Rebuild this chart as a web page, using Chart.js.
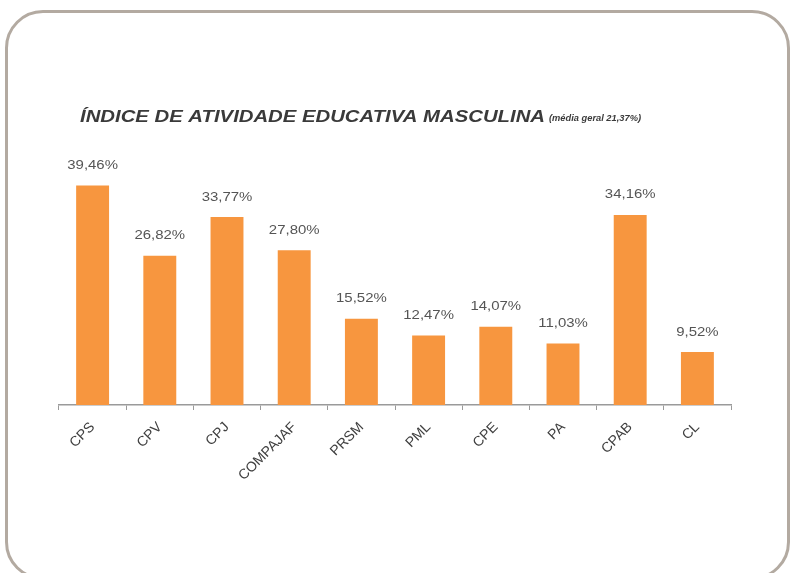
<!DOCTYPE html>
<html>
<head>
<meta charset="utf-8">
<script src="https://cdn.jsdelivr.net/npm/chart.js@4"></script>
<style>
  html, body { margin: 0; padding: 0; background: #fff; overflow: hidden; }
  .frame {
    position: absolute; left: 5px; top: 10px; width: 779px; height: 564px;
    border: 3px solid #b3aaa1; border-radius: 38px;
  }
  .wrap { position: absolute; left: 0; top: 0; width: 792px; height: 573px; }
</style>
</head>
<body>
<div class="frame"></div>
<div class="wrap"><canvas id="chart" width="792" height="573"></canvas></div>
<script>
(function () {

  const categories = ['CPS', 'CPV', 'CPJ', 'COMPAJAF', 'PRSM', 'PML', 'CPE', 'PA', 'CPAB', 'CL'];
  const values = [39.46, 26.82, 33.77, 27.80, 15.52, 12.47, 14.07, 11.03, 34.16, 9.52];
  const titleMain = 'ÍNDICE DE ATIVIDADE EDUCATIVA MASCULINA';
  const titleNote = '(média geral 21,37%)';

  const fmt = v => v.toFixed(2).replace('.', ',') + '%';

  // draw text squeezed/stretched to a given width
  function fitText(ctx, txt, x, y, w) {
    const m = ctx.measureText(txt).width;
    ctx.save();
    ctx.translate(x, y);
    ctx.scale(w / m, 1);
    ctx.fillText(txt, 0, 0);
    ctx.restore();
  }

  // title + value labels drawn on the canvas
  const extras = {
    id: 'extras',
    afterDatasetsDraw(chart) {
      const ctx = chart.ctx;
      ctx.save();
      ctx.fillStyle = '#555';
      ctx.font = '13px "Liberation Sans", Arial, sans-serif';
      ctx.textAlign = 'left';
      ctx.textBaseline = 'middle';
      chart.getDatasetMeta(0).data.forEach((bar, i) => {
        const t = fmt(values[i]);
        const w = ctx.measureText(t).width * 1.15;
        fitText(ctx, t, bar.x - w / 2, bar.y - 20, w);
      });

      ctx.fillStyle = '#3a3a3a';
      ctx.font = 'italic bold 16px "Liberation Sans", Arial, sans-serif';
      fitText(ctx, titleMain, 80, 118, 465);
      ctx.font = 'italic bold 9px "Liberation Sans", Arial, sans-serif';
      fitText(ctx, titleNote, 549, 119, 92);
      ctx.restore();
    }
  };

  const data = {
    labels: categories,
    datasets: [
      {
        data: values,
        backgroundColor: '#f7963f',
        borderWidth: 0,
        categoryPercentage: 1,
        barPercentage: 0.49
      }
    ]
  };

  const config = {
    type: 'bar',
    data: data,
    plugins: [extras],
    options: {
      responsive: false,
      animation: false,
      plugins: {
        legend: { display: false },
        tooltip: { enabled: false }
      },
      layout: {
        padding: { left: 59, right: 61, top: 149, bottom: 0 }
      },
      scales: {
        x: {
          afterFit: (s) => { s.height = 168; },
          border: { color: '#9a9a9a', width: 1.5 },
          grid: { drawOnChartArea: false, drawTicks: true, tickLength: 5, color: '#9a9a9a', offset: true },
          ticks: {
            minRotation: 45,
            maxRotation: 45,
            padding: 9,
            color: '#404040',
            font: { size: 14, family: '"Liberation Sans", Arial, sans-serif' }
          }
        },
        y: {
          display: false,
          min: 0,
          max: 46
        }
      }
    }
  };

  new Chart(document.getElementById('chart'), config);

})();
</script>
</body>
</html>
